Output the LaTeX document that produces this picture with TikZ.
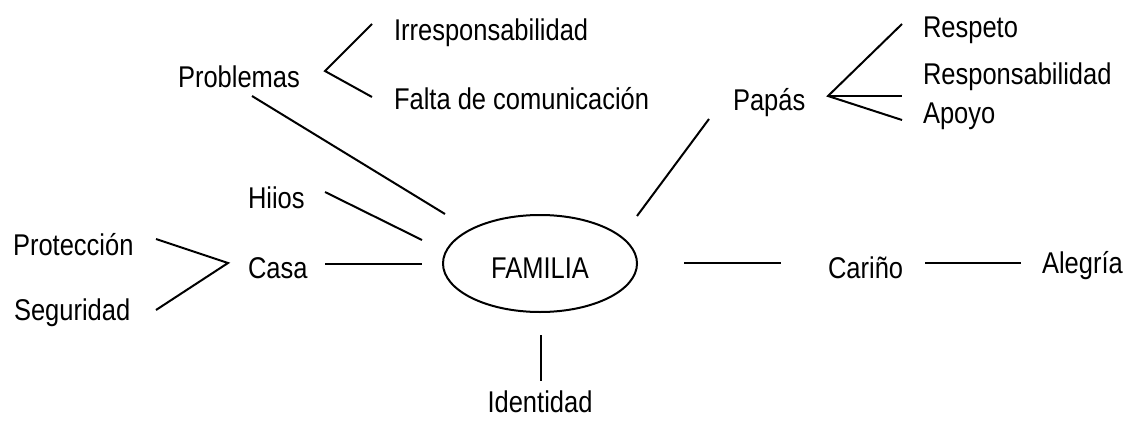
\documentclass[tikz,border=0pt]{standalone}
\usepackage{fontspec}
\setmainfont{Liberation Sans}[FakeStretch=0.85]
\usetikzlibrary{shapes.geometric}

\begin{document}
\begin{tikzpicture}
            [x=0.5pt, y=-0.5pt,
            every node/.style={inner sep=0pt, font=\fontsize{15}{18}\selectfont},
            word/.style={anchor=base west},
            centre/.style={draw, ellipse, line width=1pt, text height=15pt, minimum width=97pt, minimum height=48.5pt},
            every path/.style={line width=1pt}]

            \useasboundingbox (0,0) rectangle (1124,423);

            \node[centre] (familia) at (540,263.5) {FAMILIA};

            \node[word] (problemas) at (177,87) {Problemas};
            \node[word] (irresp) at (393,40) {Irresponsabilidad};
            \node[word] (falta) at (393,109) {Falta de comunicación};
            \node[word] (hijos) at (247,208) {Hiios};
            \node[word] (casa) at (247,278) {Casa};
            \node[word] (proteccion) at (12,255) {Protección};
            \node[word] (seguridad) at (13,320) {Seguridad};
            \node[word] (papas) at (732,110) {Papás};
            \node[word] (respeto) at (922,38) {Respeto};
            \node[word] (respons) at (922,84) {Responsabilidad};
            \node[word] (apoyo) at (922,123) {Apoyo};
            \node[word] (carino) at (827,278) {Cariño};
            \node[word] (alegria) at (1041,273) {Alegría};
            \node[anchor=base] (identidad) at (540,412) {Identidad};

            \coordinate (problemas-v) at (325,71);
            \coordinate (irresp-w) at (372,24);
            \coordinate (falta-w) at (372,97);
            \coordinate (problemas-s) at (252,96);
            \coordinate (familia-nw) at (445,214);
            \coordinate (hijos-e) at (325,192);
            \coordinate (familia-w1) at (422,240);
            \coordinate (casa-e) at (325,264);
            \coordinate (familia-w2) at (422,264);
            \coordinate (casa-v) at (228,263);
            \coordinate (proteccion-e) at (156,239);
            \coordinate (seguridad-e) at (156,310);
            \coordinate (papas-s) at (709,119);
            \coordinate (familia-ne) at (637,216);
            \coordinate (papas-v) at (828,96);
            \coordinate (respeto-w) at (902,24);
            \coordinate (respons-w) at (902,96);
            \coordinate (apoyo-w) at (902,120);
            \coordinate (familia-e) at (684,263);
            \coordinate (carino-w) at (781,263);
            \coordinate (carino-e) at (925,263);
            \coordinate (alegria-w) at (1021,263);
            \coordinate (familia-s) at (541,335);
            \coordinate (identidad-n) at (541,381);

            \draw (irresp-w) -- (problemas-v) -- (falta-w);
            \draw (problemas-s) -- (familia-nw);
            \draw (hijos-e) -- (familia-w1);
            \draw (casa-e) -- (familia-w2);
            \draw (proteccion-e) -- (casa-v) -- (seguridad-e);
            \draw (papas-s) -- (familia-ne);
            \draw (respeto-w) -- (papas-v) -- (apoyo-w);
            \draw (papas-v) -- (respons-w);
            \draw (familia-e) -- (carino-w);
            \draw (carino-e) -- (alegria-w);
            \draw (familia-s) -- (identidad-n);
        \end{tikzpicture}
\end{document}
